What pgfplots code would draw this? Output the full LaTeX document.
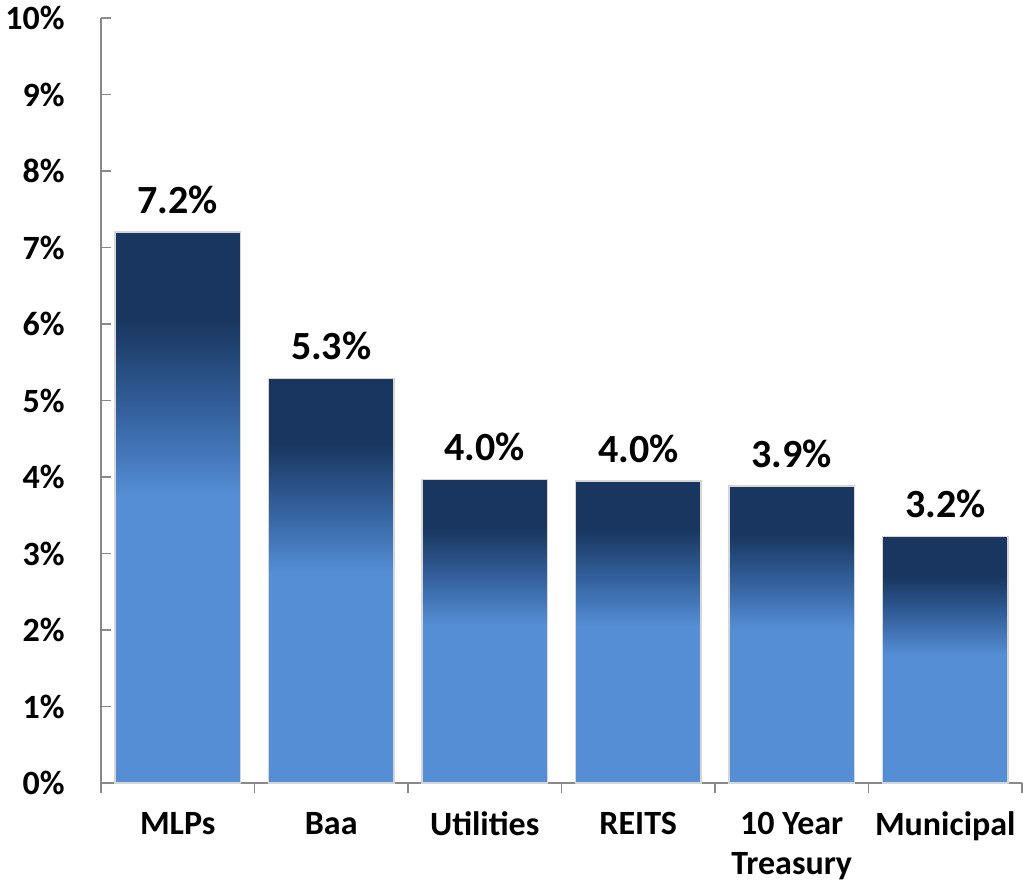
\documentclass[border=0pt]{standalone}
\usepackage{pgfplots}
\pgfplotsset{compat=1.18}
\usepackage{fontspec}
\setmainfont{Carlito}
\definecolor{lb}{HTML}{558ED5}
\definecolor{mb}{HTML}{33609C}
\definecolor{db}{HTML}{18365F}
\definecolor{axgray}{HTML}{898989}
\definecolor{bordergray}{HTML}{D6D6D6}
\pgfdeclareverticalshading{barshade}{100bp}{color(0bp)=(lb); color(51bp)=(lb); color(59bp)=(mb); color(67bp)=(db); color(100bp)=(db)}
\begin{document}
\begin{tikzpicture}
\begin{axis}[
  scale only axis, width=691pt, height=574pt,
  xmin=-0.5, xmax=5.5, ymin=0, ymax=10,
  axis x line*=bottom, axis y line*=left,
  axis line style={-, axgray, line width=1.1pt},
  tick align=outside, major tick length=7.5pt,
  tick style={axgray, line width=1.1pt},
  ytick style={xshift=7.5pt},
  ytick={0,1,...,10},
  yticklabels={0\%,1\%,2\%,3\%,4\%,5\%,6\%,7\%,8\%,9\%,10\%},
  yticklabel style={font=\fontsize{25.5}{28}\selectfont\bfseries, inner sep=0pt, xshift=-19.5pt},
  xtick={-0.5,0.5,1.5,2.5,3.5,4.5,5.5},
  xticklabel=\empty,
  extra x ticks={0,1,2,3,4,5},
  extra x tick labels={MLPs,Baa,Utilities,REITS,{10 Year\\[2pt]Treasury},Municipal},
  extra x tick style={major tick length=0pt, tick label style={font=\fontsize{25.5}{28.5}\selectfont\bfseries, align=center, anchor=north, inner sep=0pt, yshift=-21.5pt}},
  clip=false,
  mybar/.style={ybar, bar width=0.82, bar shift=0pt, shading=barshade, draw=bordergray, line width=1.1pt,
    nodes near coords={\pgfmathprintnumber[fixed,fixed zerofill,precision=1,assume math mode=true]{\pgfplotspointmeta}\%},
    every node near coord/.append style={font=\fontsize{30}{34}\selectfont\bfseries, black, yshift=10pt}},
]
\addplot[mybar] coordinates {(0,7.20)};
\addplot[mybar] coordinates {(1,5.29)};
\addplot[mybar] coordinates {(2,3.97)};
\addplot[mybar] coordinates {(3,3.95)};
\addplot[mybar] coordinates {(4,3.88)};
\addplot[mybar] coordinates {(5,3.22)};
\end{axis}
\pgfresetboundingbox
\path ([shift={(-75.75pt,-75pt)}]current axis.south west) rectangle ([shift={(0.75pt,13.5pt)}]current axis.north east);
\end{tikzpicture}
\end{document}
